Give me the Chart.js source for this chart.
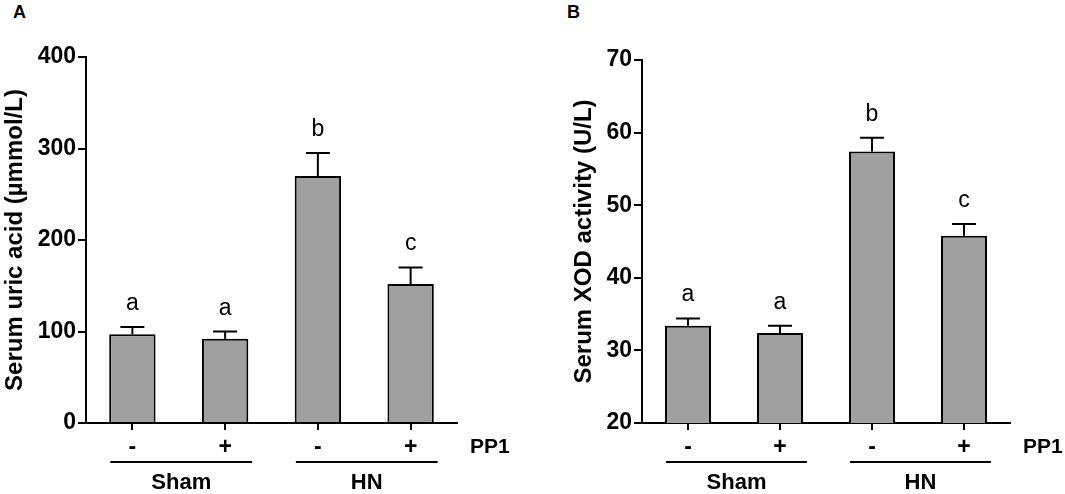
<!DOCTYPE html>
<html>
<head>
<meta charset="utf-8">
<script src="https://cdn.jsdelivr.net/npm/chart.js@4.4.0/dist/chart.umd.min.js"></script>
<style>
  body { margin: 0; background: #fff; width: 1065px; height: 494px; position: relative; overflow: hidden;
         font-family: "Liberation Sans", Arial, sans-serif; }
  .panel { position: absolute; top: 0; height: 494px; }
  .tag { position: absolute; top: 2px; font-weight: bold; font-size: 18px; color: #000; }
</style>
</head>
<body>
<div class="tag" style="left:13px">A</div>
<div class="tag" style="left:567px">B</div>
<div class="panel" style="left:0;width:530px"><canvas id="chartA"></canvas></div>
<div class="panel" style="left:530px;width:535px"><canvas id="chartB"></canvas></div>

<script>
// valeurs
const categories = ['-', '+', '-', '+'];
const groupNames = ['Sham', 'HN'];
const sigLetters = ['a', 'a', 'b', 'c'];

const uricMean = [97, 92, 270, 152];
const uricErr = [8, 8, 25, 18];
const uricTicks = [0, 100, 200, 300, 400];

const xodMean = [33.4, 32.4, 57.4, 45.8];
const xodErr = [1.0, 1.0, 1.9, 1.6];
const xodTicks = [20, 30, 40, 50, 60, 70];

const FONT = '"Liberation Sans", Arial, sans-serif';

// barres d'erreur, lettres, groupes sous l'axe
const extras = {
  id: 'extras',
  afterDatasetsDraw(chart, args, opts) {
    const ctx = chart.ctx;
    const x = chart.scales.x, y = chart.scales.y;
    const meta = chart.getDatasetMeta(0);
    ctx.save();
    ctx.strokeStyle = '#000';
    ctx.fillStyle = '#000';
    ctx.lineWidth = 2;
    ctx.font = '23px ' + FONT;
    ctx.textAlign = 'center';
    ctx.textBaseline = 'alphabetic';
    opts.mean.forEach((m, i) => {
      const cx = meta.data[i].x;
      const y0 = y.getPixelForValue(m);
      const y1 = y.getPixelForValue(m + opts.err[i]);
      ctx.beginPath();
      ctx.moveTo(cx, y0); ctx.lineTo(cx, y1);
      ctx.moveTo(cx - 12, y1); ctx.lineTo(cx + 12, y1);
      ctx.stroke();
      ctx.fillText(sigLetters[i], cx, y1 - 17);
    });

    const base = chart.chartArea.bottom;
    ctx.font = 'bold 22px ' + FONT;
    ctx.textBaseline = 'middle';
    groupNames.forEach((g, k) => {
      const xa = x.getPixelForValue(2 * k) - 22;
      const xb = x.getPixelForValue(2 * k + 1) + 27;
      ctx.beginPath();
      ctx.moveTo(xa, base + 39); ctx.lineTo(xb, base + 39);
      ctx.stroke();
      ctx.fillText(g, (xa + xb) / 2, base + 60);
    });
    ctx.font = 'bold 21px ' + FONT;
    ctx.textAlign = 'left';
    ctx.fillText('PP1', chart.chartArea.right + 13, base + 24);
    ctx.restore();
  }
};

function makeChart(id, mean, err, ticks, title, yWidth, pad) {
  return new Chart(document.getElementById(id), {
    type: 'bar',
    data: {
      labels: categories,
      datasets: [{
        data: mean,
        backgroundColor: '#a0a0a0',
        borderColor: '#000',
        borderWidth: 2,
        barPercentage: 0.5,
        categoryPercentage: 1
      }]
    },
    options: {
      responsive: true,
      maintainAspectRatio: false,
      animation: false,
      layout: { padding: pad },
      plugins: {
        legend: { display: false },
        tooltip: { enabled: false },
        extras: { mean: mean, err: err }
      },
      scales: {
        x: {
          offset: true,
          grid: { offset: false, drawOnChartArea: false, drawTicks: true, tickLength: 7, color: '#000', lineWidth: 2 },
          border: { display: true, color: '#000', width: 2 },
          ticks: { color: '#000', padding: 4, font: { family: FONT, size: 23, weight: 'bold' } },
          afterFit: s => { s.height = 71; }
        },
        y: {
          min: ticks[0],
          max: ticks[ticks.length - 1],
          afterBuildTicks: s => { s.ticks = ticks.map(v => ({ value: v })); },
          grid: { drawOnChartArea: false, drawTicks: true, tickLength: 8, color: '#000', lineWidth: 2 },
          border: { display: true, color: '#000', width: 2 },
          ticks: { color: '#000', padding: 2, font: { family: FONT, size: 23, weight: 'bold' } },
          title: { display: true, text: title, color: '#000', padding: { top: 1, bottom: 0 },
                   font: { family: FONT, size: 24, weight: 'bold' } },
          afterFit: s => { s.width = yWidth; }
        }
      }
    },
    plugins: [extras]
  });
}

makeChart('chartA', uricMean, uricErr, uricTicks, 'Serum uric acid (µmmol/L)', 86,
  { left: 0, top: 57, right: 73, bottom: 0 });
makeChart('chartB', xodMean, xodErr, xodTicks, 'Serum XOD activity (U/L)', 73,
  { left: 39, top: 60, right: 55, bottom: 0 });
</script>
</body>
</html>
